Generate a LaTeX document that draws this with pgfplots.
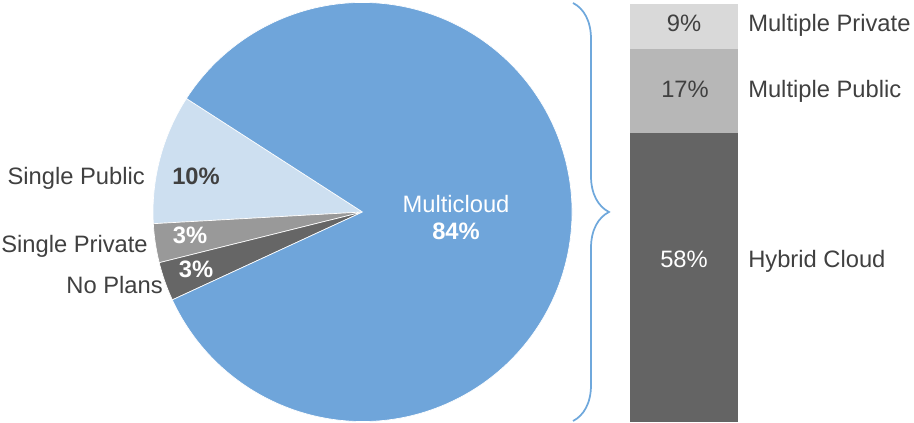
\documentclass[border=0pt]{standalone}
\usepackage{pgfplots}
\pgfplotsset{compat=1.18}
\usepackage{fontspec}
\setmainfont{Liberation Sans}
\usetikzlibrary{decorations.pathreplacing}

\definecolor{mcblue}{HTML}{6FA5DA}
\definecolor{spblue}{HTML}{CDDFF0}
\definecolor{sprgray}{HTML}{999999}
\definecolor{npgray}{HTML}{666666}
\definecolor{bar58}{HTML}{646464}
\definecolor{bar17}{HTML}{B7B7B7}
\definecolor{bar9}{HTML}{D9D9D9}
\definecolor{txt}{HTML}{404040}
\definecolor{brace}{HTML}{6FA8DC}

% pie shares (percent)
\def\vSP{10}  % Single Public
\def\vSPr{3}  % Single Private
\def\vNP{3}   % No Plans
\def\vMC{84}  % Multicloud
\pgfmathsetmacro\aA{147.2}
\pgfmathsetmacro\aB{\aA+3.6*\vSP}
\pgfmathsetmacro\aC{\aB+3.6*\vSPr}
\pgfmathsetmacro\aD{\aC+3.6*\vNP}
\pgfmathsetmacro\aE{\aD+3.6*\vMC}
\def\cx{362.5}\def\cy{211}\def\R{209.5}

\newcommand\lbl{\fontsize{17.8}{20}\selectfont}
\tikzset{lab/.style={font=\lbl, text=txt, inner sep=0pt}}

\begin{document}
\begin{tikzpicture}
% stacked bar of the multicloud share
\begin{axis}[
    at={(472.5pt,0.75pt)}, anchor=south west,
    scale only axis, width=81pt, height=313.5pt,
    xmin=-0.5, xmax=0.5, ymin=0, ymax=84,
    ybar stacked, bar width=81pt,
    hide axis, clip=false,
]
\addplot[fill=bar58, draw=none] coordinates {(0,58)};
\addplot[fill=bar17, draw=none] coordinates {(0,17)};
\addplot[fill=bar9, draw=none] coordinates {(0,9)};
\end{axis}

% base axis in pixel units (1px = 0.75pt)
\begin{axis}[
    name=base, at={(0,0)}, anchor=south west,
    scale only axis, width=685.5pt, height=317.25pt,
    xmin=0, xmax=914, ymin=0, ymax=423,
    hide axis, clip=false,
]
\path (axis cs:0,0) rectangle (axis cs:914,423);
\filldraw[overlay, fill=spblue, draw=white, line width=0.5pt] (axis cs:\cx,\cy) -- (axis cs:{\cx+\R*cos(\aA)},{\cy+\R*sin(\aA)}) arc[start angle=\aA, end angle=\aB, radius=157.125pt] -- cycle;
\filldraw[overlay, fill=sprgray, draw=white, line width=0.5pt] (axis cs:\cx,\cy) -- (axis cs:{\cx+\R*cos(\aB)},{\cy+\R*sin(\aB)}) arc[start angle=\aB, end angle=\aC, radius=157.125pt] -- cycle;
\filldraw[overlay, fill=npgray, draw=white, line width=0.5pt] (axis cs:\cx,\cy) -- (axis cs:{\cx+\R*cos(\aC)},{\cy+\R*sin(\aC)}) arc[start angle=\aC, end angle=\aD, radius=157.125pt] -- cycle;
\filldraw[overlay, fill=mcblue, draw=white, line width=0.5pt] (axis cs:\cx,\cy) -- (axis cs:{\cx+\R*cos(\aD)},{\cy+\R*sin(\aD)}) arc[start angle=\aD, end angle=\aE, radius=157.125pt] -- cycle;

% pie labels
\node[lab, anchor=base east] at (axis cs:145,238.5) {Single Public};
\node[lab, anchor=base, font=\lbl\bfseries] at (axis cs:196,238.5) {10\%};
\node[lab, anchor=base east] at (axis cs:148,170.5) {Single Private};
\node[lab, anchor=base, font=\lbl\bfseries, text=white] at (axis cs:190,179.5) {3\%};
\node[lab, anchor=base east] at (axis cs:163,129.5) {No Plans};
\node[lab, anchor=base, font=\lbl\bfseries, text=white] at (axis cs:196,145.5) {3\%};
\node[lab, anchor=base, text=white] at (axis cs:456,210.5) {Multicloud};
\node[lab, anchor=base, font=\lbl\bfseries, text=white] at (axis cs:456,183.5) {84\%};

% brace
\draw[overlay, brace, line width=1.3pt, decorate, decoration={brace, amplitude=27pt}]
    (axis cs:573,420) -- (axis cs:573,2);

% bar labels
\node[lab, anchor=base, text=white] at (axis cs:684,155.5) {58\%};
\node[lab, anchor=base] at (axis cs:685,325.5) {17\%};
\node[lab, anchor=base] at (axis cs:684,391.5) {9\%};
\node[lab, anchor=base west] at (axis cs:748,391) {Multiple Private};
\node[lab, anchor=base west] at (axis cs:748,325.5) {Multiple Public};
\node[lab, anchor=base west] at (axis cs:748,155.5) {Hybrid Cloud};
\end{axis}
\end{tikzpicture}
\end{document}
